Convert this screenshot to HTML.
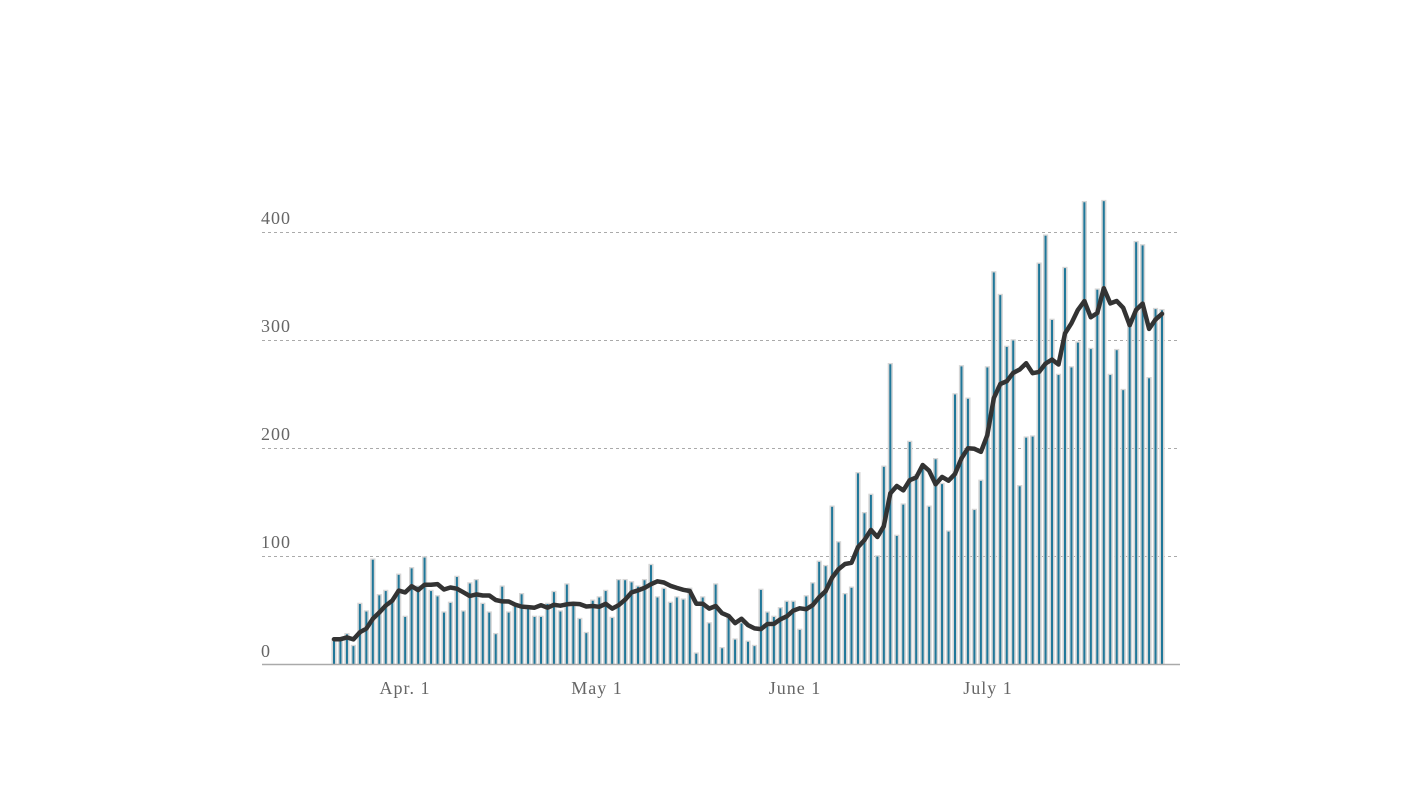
<!DOCTYPE html>
<html><head><meta charset="utf-8"><style>
html,body{margin:0;padding:0;background:#fff;}
svg text{font-family:"Liberation Serif",serif;fill:#666;font-size:18px;letter-spacing:1px;}
</style></head><body>
<svg id="c" width="1426" height="783" xmlns="http://www.w3.org/2000/svg">
<g stroke="#aaa" stroke-width="1" stroke-dasharray="3,3">
<line x1="262" x2="1180" y1="232.5" y2="232.5"/>
<line x1="262" x2="1180" y1="340.5" y2="340.5"/>
<line x1="262" x2="1180" y1="448.5" y2="448.5"/>
<line x1="262" x2="1180" y1="556.5" y2="556.5"/>
</g>
<text x="261" y="224">400</text>
<text x="261" y="332">300</text>
<text x="261" y="440">200</text>
<text x="261" y="548">100</text>
<text x="261" y="657">0</text>
<text x="405" y="694" text-anchor="middle">Apr. 1</text>
<text x="597" y="694" text-anchor="middle">May 1</text>
<text x="795" y="694" text-anchor="middle">June 1</text>
<text x="988" y="694" text-anchor="middle">July 1</text>
<g id="bars"></g>
<line x1="262" x2="1180" y1="664.5" y2="664.5" stroke="#aaa" stroke-width="1.5"/>
<polyline id="avg" fill="none" stroke="#333" stroke-width="4.5" stroke-linejoin="round" stroke-linecap="round"/>
</svg>
<script>
var d=[23,23,28,17,56,49,97,64,68,59,83,44,89,72,99,68,63,48,57,81,49,75,78,56,48,28,72,48,55,65,53,44,44,56,67,49,74,56,42,29,59,62,68,43,78,78,76,72,78,92,62,
70,57,62,60,70,10,62,38,74,15,43,23,38,21,17,69,48,44,52,58,58,32,63,75,95,91,
146,113,65,71,177,140,157,100,183,278,119,148,206,175,181,146,190,167,123,250,276,246,143,170,275,
363,342,294,300,165,210,211,371,397,319,268,367,275,298,428,292,347,429,268,291,254,315,391,388,265,329,328];
var n=d.length,x0=334,x1=1162,sp=(x1-x0)/(n-1),k=1.08,base=664;
var g=document.getElementById('bars'),s='',pts=[];
for(var i=0;i<n;i++){var x=x0+i*sp,h=d[i]*k;
s+='<rect x="'+(x-2.6)+'" y="'+(base-h-0.8)+'" width="5.2" height="'+(h+0.8)+'" fill="#d6d6d6"/>';
s+='<rect x="'+(x-1)+'" y="'+(base-h+0.5)+'" width="2" height="'+(h-0.5)+'" fill="#1f7799"/>';
var a=0,c=0;for(var j=Math.max(0,i-6);j<=i;j++){a+=d[j];c++;}
pts.push(x.toFixed(1)+','+(base-a/c*k).toFixed(1));}
g.innerHTML=s;
document.getElementById('avg').setAttribute('points',pts.join(' '));
</script>
</body></html>
